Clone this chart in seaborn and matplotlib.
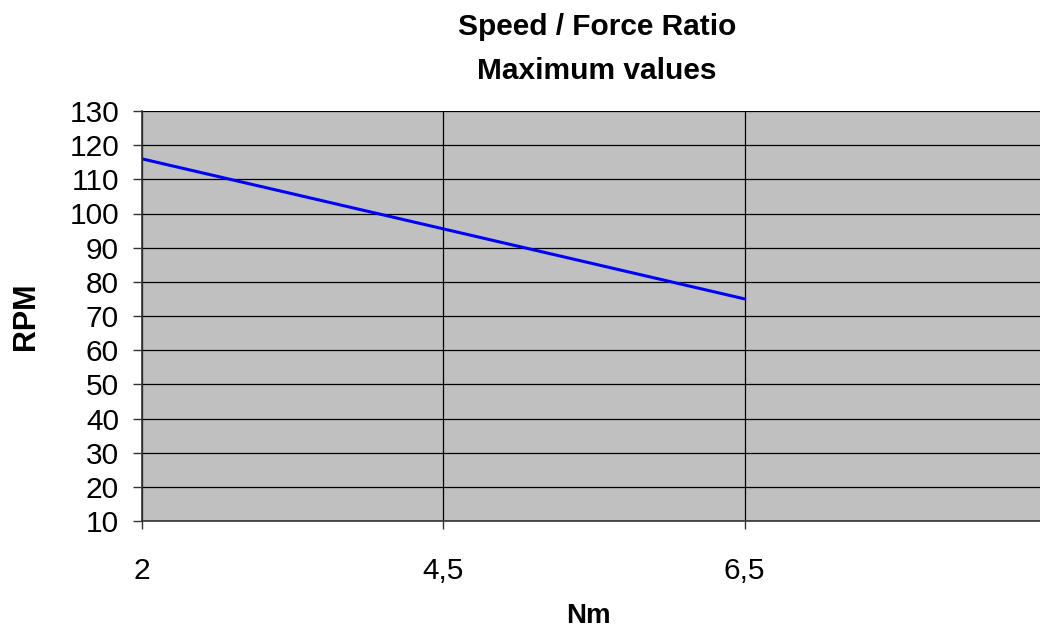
import matplotlib
matplotlib.use('Agg')
import matplotlib.pyplot as plt
import seaborn as sns
import pandas as pd

# Data
torque_labels = ['2', '4,5', '6,5']
rpm_values = [116, 95.5, 75]
y_ticks = list(range(10, 131, 10))
title_lines = ['Speed / Force Ratio', 'Maximum values']

sns.set_theme(style='white')
plt.rcParams['font.family'] = ['Liberation Sans', 'DejaVu Sans']
plt.rcParams['text.color'] = 'black'
plt.rcParams['axes.labelcolor'] = 'black'
plt.rcParams['xtick.color'] = 'black'
plt.rcParams['ytick.color'] = 'black'

df = pd.DataFrame({'Nm': torque_labels, 'RPM': rpm_values})

W, H = 1040, 631
fig = plt.figure(figsize=(W / 100, H / 100), dpi=100)
ax = fig.add_axes([142 / W, 1 - 521 / H, (W - 142) / W, (521 - 111) / H])
ax.set_facecolor('#C0C0C0')

sns.lineplot(data=df, x='Nm', y='RPM', ax=ax, color='#0000FF', linewidth=2.2, sort=False)

ax.set_xlim(0, 2.98)
ax.set_ylim(10, 130)
ax.set_yticks(y_ticks)
ax.set_xticks(range(len(torque_labels)))
ax.set_xticklabels(torque_labels)

ax.grid(True, color='black', linewidth=0.9)
ax.set_axisbelow(True)
for side in ['left', 'bottom']:
    ax.spines[side].set_color('#333333')
    ax.spines[side].set_linewidth(1.2)
ax.spines['top'].set_visible(False)
ax.spines['right'].set_visible(False)

ax.tick_params(axis='y', direction='out', length=6.5, width=1, color='#333333',
               pad=10, labelsize=21.5, left=True)
ax.tick_params(axis='x', direction='out', length=6, width=1, color='#333333',
               pad=20, labelsize=21.5, bottom=True)

ax.set_xlabel('Nm', fontsize=20, fontweight='bold')
ax.set_ylabel('RPM', fontsize=22, fontweight='bold')
ax.xaxis.set_label_coords((588 - 142) / (W - 142), -0.2)
ax.yaxis.set_label_coords(-0.112, 0.5)

# title, two lines placed on their baselines
fig.text(597 / W, 1 - 35 / H, title_lines[0], ha='center', va='baseline',
         fontsize=21.5, fontweight='bold')
fig.text(597 / W, 1 - 79 / H, title_lines[1], ha='center', va='baseline',
         fontsize=21.5, fontweight='bold')

plt.savefig('out.png', dpi=100)
plt.close()
